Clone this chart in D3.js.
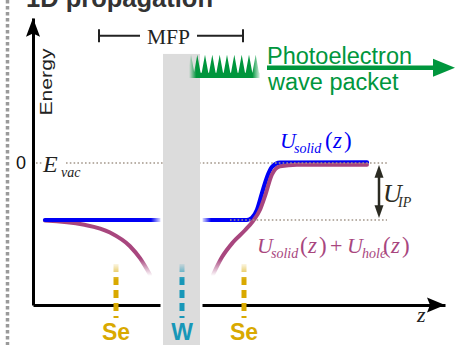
<!DOCTYPE html>
<html>
<head>
<meta charset="utf-8">
<script src="https://cdn.jsdelivr.net/npm/d3@7"></script>
<style>
  body { margin: 0; background: #fff; }
  svg { display: block; }
</style>
</head>
<body>
<svg id="chart" width="456" height="345"></svg>
<script>
// ---- data (z in Å-like units, energy in units of U_IP) ----
const solidLeft  = [[1.2, -1], [12.9, -1]];
const solidRight = [[16.8, -1], [21.4, -1], [21.9, -0.96], [22.4, -0.82], [22.9, -0.53],
                    [23.4, -0.25], [23.9, -0.07], [24.7, 0.005], [33.4, 0.01]];
const holeLeft   = [[1.2, -1.01], [5.0, -1.08], [7.7, -1.22], [9.7, -1.46], [10.7, -1.67], [11.7, -1.96]];
const holeRight  = [[18.0, -1.96], [18.9, -1.65], [20.0, -1.39], [21.2, -1.18], [22.0, -1.02],
                    [22.7, -0.82], [23.2, -0.58], [23.9, -0.2], [24.7, -0.06], [26.4, -0.03], [33.4, -0.03]];
const levels     = [0, -1];                 // E_vac, bulk level
const bandZ      = [13.0, 16.7];            // tungsten layer
const bandTop    = 1.91;
const siteNames  = ["Se", "W", "Se"];
const siteZ      = [8.3, 14.9, 21.1];
const siteRange  = [-1.77, -2.72];
const wavePeaks  = [15.8, 16.43, 17.2, 17.93, 18.67, 19.4, 20.13, 20.87, 21.6, 22.27];
const waveLevels = [1.895, 1.58, 1.49];     // peak, valley, base
const mfpZ       = [6.6, 21.0];

const siteColor = { Se: "#d9a900", W: "#1797b8" };
const sans = "'Liberation Sans', Arial, sans-serif";
const serif = "'Liberation Serif', 'Times New Roman', serif";
const blue = "#0000f5", purple = "#a8467e", green = "#00963d";

const svg = d3.select("#chart");
const x = d3.scaleLinear().domain([0, 41.2]).range([33, 445]);
const y = d3.scaleLinear().domain([-2.49, 2.54]).range([305, 18]);
const line = d3.line().x(d => x(d[0])).y(d => y(d[1])).curve(d3.curveMonotoneX);

// gradients for the faded ends
const defs = svg.append("defs");
function grad(id, x1, y1, x2, y2, color, stops) {
  const g = defs.append("linearGradient").attr("id", id).attr("gradientUnits", "userSpaceOnUse")
    .attr("x1", x1).attr("y1", y1).attr("x2", x2).attr("y2", y2);
  stops.forEach(s => g.append("stop").attr("offset", s[0]).attr("stop-color", color).attr("stop-opacity", s[1]));
}
grad("blueL", x(11.8), 0, x(12.9), 0, blue, [[0, 1], [1, 0]]);
grad("blueR", x(16.8), 0, x(17.8), 0, blue, [[0, 0], [1, 1]]);
grad("holeFade", 0, y(-1.68), 0, y(-1.98), purple, [[0, 1], [1, 0]]);
grad("waveFade", x(15.6), 0, x(22.8), 0, green, [[0, 0], [0.1, 1], [0.88, 1], [1, 0]]);
siteNames.forEach((n, i) => grad("site" + i, 0, y(siteRange[0]), 0, y(-2.05), siteColor[n], [[0, 0.1], [1, 1]]));

// left dotted border
svg.append("line").attr("x1", 7.5).attr("x2", 7.5).attr("y1", 0).attr("y2", 345)
  .attr("stroke", "#9a9a9a").attr("stroke-width", 3.5).attr("stroke-dasharray", "3.5,2.5");

// title (cut off at the top)
svg.append("text").attr("x", 26).attr("y", 7).text("1D propagation")
  .attr("font-family", sans).attr("font-weight", "bold").attr("font-size", 25.5).attr("fill", "#333");

// axes
const gy = svg.append("g").attr("transform", `translate(${x(0)},0)`)
  .call(d3.axisLeft(y).tickValues([0]).tickFormat(d3.format("d")).tickSize(0).tickPadding(7).tickSizeOuter(0));
gy.attr("font-size", null).attr("font-family", null);
gy.select(".domain").attr("stroke", "#000").attr("stroke-width", 3);
gy.selectAll("text").style("font-size", "18px").style("font-family", sans).attr("fill", "#111");

const gx = svg.append("g").attr("transform", `translate(0,${y(-2.49)})`)
  .call(d3.axisBottom(x).tickValues([]).tickSizeOuter(0));
gx.select(".domain").attr("stroke", "#000").attr("stroke-width", 3);

const arrowLine = d3.line().x(d => x(d[0])).y(d => y(d[1]));
svg.append("path").attr("d", arrowLine([[0, 2.54], [-0.7, 2.21], [0, 2.27], [0.7, 2.21]]) + "Z").attr("fill", "#000");
svg.append("path").attr("d", arrowLine([[41.2, -2.49], [39.4, -2.36], [39.7, -2.49], [39.4, -2.62]]) + "Z").attr("fill", "#000");

svg.append("text").attr("transform", `translate(52,82) rotate(-90)`).attr("text-anchor", "middle")
  .attr("font-family", sans).attr("font-size", 17).attr("textLength", 67).attr("lengthAdjust", "spacingAndGlyphs")
  .attr("fill", "#222").text("Energy");

svg.append("text").attr("x", 417).attr("y", 322).text("z")
  .attr("font-family", serif).attr("font-style", "italic").attr("font-size", 22).attr("fill", "#222");

// potential curves
svg.append("path").attr("d", line(holeLeft)).attr("fill", "none")
  .attr("stroke", "url(#holeFade)").attr("stroke-width", 4).attr("stroke-linecap", "round");
svg.append("path").attr("d", line(solidLeft)).attr("fill", "none")
  .attr("stroke", "url(#blueL)").attr("stroke-width", 4.2).attr("stroke-linecap", "round");
svg.append("path").attr("d", line(solidRight)).attr("fill", "none")
  .attr("stroke", "url(#blueR)").attr("stroke-width", 4.2).attr("stroke-linecap", "round");
svg.append("path").attr("d", line(holeRight)).attr("fill", "none")
  .attr("stroke", "url(#holeFade)").attr("stroke-width", 4).attr("stroke-linecap", "round");

// dotted reference levels
const dot = { stroke: "#a3978a", w: 1.6, dash: "1.6,2.2" };
[[levels[0], 0.3, 1.0], [levels[0], 3.3, 35.4], [levels[1], 19.7, 35.4]].forEach(s => {
  svg.append("line").attr("x1", x(s[1])).attr("x2", x(s[2])).attr("y1", y(s[0])).attr("y2", y(s[0]))
    .attr("stroke", dot.stroke).attr("stroke-width", dot.w).attr("stroke-dasharray", dot.dash);
});

// tungsten layer band with white gap
svg.append("rect").attr("x", x(bandZ[0]) - 2.5).attr("width", x(bandZ[1]) - x(bandZ[0]) + 5)
  .attr("y", y(-0.85)).attr("height", y(-2.62) - y(-0.85)).attr("fill", "#fff");
svg.append("rect").attr("x", x(bandZ[0])).attr("width", x(bandZ[1]) - x(bandZ[0]))
  .attr("y", y(bandTop)).attr("height", 345 - y(bandTop)).attr("fill", "#dcdcdc");

// atom sites
siteNames.forEach((n, i) => {
  svg.append("line").attr("x1", x(siteZ[i])).attr("x2", x(siteZ[i]))
    .attr("y1", y(siteRange[0])).attr("y2", y(siteRange[1]))
    .attr("stroke", `url(#site${i})`).attr("stroke-width", 5).attr("stroke-dasharray", "8,5");
  svg.append("text").attr("x", x(siteZ[i])).attr("y", 340).attr("text-anchor", "middle").text(n)
    .attr("font-family", sans).attr("font-weight", "bold").attr("font-size", 23).attr("fill", siteColor[n]);
});

// photoelectron wave packet
const wavePts = [[wavePeaks[0] - 0.4, waveLevels[2]], [wavePeaks[0] - 0.4, waveLevels[1]]];
wavePeaks.forEach(p => wavePts.push([p - 0.33, waveLevels[1]], [p, waveLevels[0]], [p + 0.33, waveLevels[1]]));
const lastP = wavePeaks[wavePeaks.length - 1];
wavePts.push([lastP + 0.4, waveLevels[1]], [lastP + 0.4, waveLevels[2]]);
svg.append("path").attr("d", arrowLine(wavePts) + "Z").attr("fill", "url(#waveFade)");

svg.append("line").attr("x1", x(23.4)).attr("x2", x(40.3)).attr("y1", y(1.667)).attr("y2", y(1.667))
  .attr("stroke", green).attr("stroke-width", 4.5);
svg.append("path").attr("d", arrowLine([[42.2, 1.667], [40.0, 1.825], [40.0, 1.509]]) + "Z").attr("fill", green);
svg.append("text").attr("x", 267).attr("y", 63.5).text("Photoelectron")
  .attr("font-family", sans).attr("font-size", 23.5).attr("fill", green);
svg.append("text").attr("x", 268).attr("y", 89.5).text("wave packet")
  .attr("font-family", sans).attr("font-size", 23.5).attr("fill", green);

// MFP bracket
const mfpY = y(2.23);
const gm = svg.append("g").attr("stroke", "#222").attr("stroke-width", 2);
gm.append("line").attr("x1", x(mfpZ[0])).attr("x2", x(10.7)).attr("y1", mfpY).attr("y2", mfpY);
gm.append("line").attr("x1", x(16.4)).attr("x2", x(mfpZ[1])).attr("y1", mfpY).attr("y2", mfpY);
mfpZ.forEach(z => gm.append("line").attr("x1", x(z)).attr("x2", x(z)).attr("y1", mfpY - 6.5).attr("y2", mfpY + 6.5));
svg.append("text").attr("x", (x(10.7) + x(16.4)) / 2).attr("y", 44).attr("text-anchor", "middle").text("MFP")
  .attr("font-family", serif).attr("font-size", 21.5).attr("fill", "#222");

// U_IP double arrow
const zIP = 34.6, ipCol = "#2b2b22";
svg.append("line").attr("x1", x(zIP)).attr("x2", x(zIP)).attr("y1", y(-0.2)).attr("y2", y(-0.8))
  .attr("stroke", ipCol).attr("stroke-width", 2.5);
svg.append("path").attr("d", arrowLine([[zIP, -0.035], [zIP - 0.45, -0.26], [zIP + 0.45, -0.26]]) + "Z").attr("fill", ipCol);
svg.append("path").attr("d", arrowLine([[zIP, -0.965], [zIP - 0.45, -0.74], [zIP + 0.45, -0.74]]) + "Z").attr("fill", ipCol);

// math labels
function mathLabel(parts, fill) {
  const t = svg.append("text").attr("font-family", serif).attr("fill", fill);
  parts.forEach(p => t.append("tspan").attr("x", p[0]).attr("y", p[1]).attr("font-size", p[3])
    .attr("font-style", p[4] ? "italic" : "normal").text(p[2]));
}
mathLabel([[43, 172, "E", 24, 1], [61, 177, "vac", 14, 1]], "#222");
mathLabel([[383, 202, "U", 26, 1], [398, 207, "IP", 14, 1]], ipCol);
mathLabel([[280, 148, "U", 22, 1], [294, 153, "solid", 14, 1],
           [325, 148, "(", 23, 0], [333, 148, "z", 23, 1], [344, 148, ")", 23, 0]], blue);
mathLabel([[257, 253, "U", 22, 1], [271, 258, "solid", 14, 1],
           [300, 253, "(", 23, 0], [308, 253, "z", 23, 1], [319, 253, ")", 23, 0],
           [330, 253, "+", 22, 0],
           [347, 253, "U", 22, 1], [362, 258, "hole", 14, 1],
           [383, 253, "(", 23, 0], [391, 253, "z", 23, 1], [402, 253, ")", 23, 0]], purple);
</script>
</body>
</html>
